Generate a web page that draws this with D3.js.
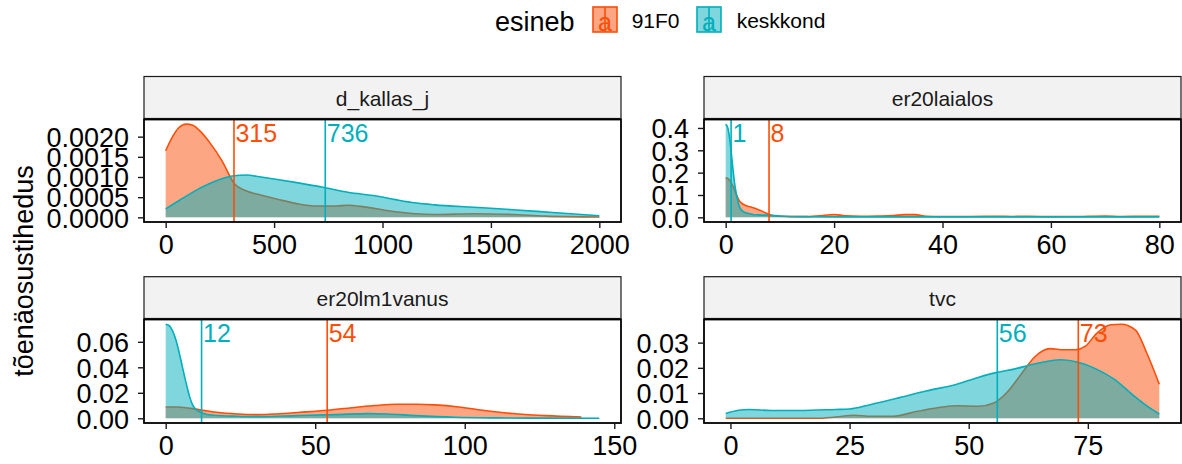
<!DOCTYPE html>
<html>
<head>
<meta charset="utf-8">
<script src="https://cdn.jsdelivr.net/npm/d3@7"></script>
<style>
  html, body { margin: 0; padding: 0; background: #fff; }
  svg text { font-family: "Liberation Sans", Arial, sans-serif; }
</style>
</head>
<body>
<svg id="chart" width="1182" height="464"></svg>
<script>
// Groups and colours
const groups = ["91F0", "keskkond"];
const groupColors = ["#FC4E07", "#00AFBB"];

// Facet names
const facets = ["d_kallas_j", "er20laialos", "er20lm1vanus", "tvc"];

// Density estimates per facet, [value, density] pairs
const kallas91F0 = [[0,0.00165],[30,0.00198],[60,0.00222],[95,0.00231],[125,0.00228],[160,0.00213],[205,0.00184],[260,0.00140],[316,0.00084],[370,0.00066],[425,0.00057],[515,0.00045],[605,0.00034],[695,0.00028],[785,0.00028],[840,0.00030],[915,0.00026],[1020,0.00017],[1150,0.00009],[1240,0.00007],[1420,0.00009],[1600,0.00007],[1750,0.00003],[2000,0.00001]];
const kallasKeskkond = [[0,0.00021],[60,0.00041],[150,0.00070],[240,0.00092],[315,0.00103],[370,0.00105],[440,0.00100],[515,0.00094],[605,0.00086],[730,0.00074],[840,0.00062],[970,0.00053],[1060,0.00044],[1150,0.00036],[1240,0.00031],[1420,0.00025],[1600,0.00019],[1785,0.00012],[2000,0.00004]];

const laialos91F0 = [[0,0.177],[0.5,0.172],[1,0.155],[1.5,0.13],[2,0.10],[2.5,0.075],[3,0.062],[3.5,0.055],[4.5,0.047],[5.5,0.040],[6.5,0.030],[7.5,0.018],[8.5,0.009],[10,0.005],[12,0.003],[15,0.003],[18,0.008],[20,0.013],[22,0.007],[25,0.005],[28,0.006],[31,0.008],[33,0.012],[35,0.012],[37,0.005],[40,0.004],[45,0.004],[50,0.005],[53,0.004],[56,0.005],[60,0.003],[65,0.004],[70,0.006],[73,0.004],[80,0.005]];
const laialosKeskkond = [[0,0.417],[0.4,0.40],[0.8,0.34],[1.2,0.25],[1.6,0.16],[2,0.10],[2.5,0.05],[3,0.03],[4,0.018],[5,0.013],[6,0.011],[8,0.009],[10,0.006],[12,0.004],[15,0.003],[20,0.002],[30,0.002],[40,0.002],[50,0.002],[60,0.002],[70,0.002],[80,0.002]];

const vanus91F0 = [[0,0.0089],[4,0.0089],[11,0.0068],[17,0.0047],[24,0.0034],[31,0.0029],[37,0.0034],[45,0.0047],[54,0.0063],[64,0.0087],[70,0.0100],[77,0.0110],[84,0.0110],[90,0.0105],[98,0.0089],[106,0.0063],[116,0.0037],[127,0.0021],[139,0.0010]];
const vanusKeskkond = [[0,0.0738],[1,0.0730],[2,0.0700],[3,0.0645],[4,0.0565],[5,0.0465],[6,0.0360],[7,0.0260],[8,0.0170],[9,0.0105],[10.5,0.0062],[12.2,0.0042],[16,0.0024],[24,0.0016],[31,0.0013],[44,0.0021],[57,0.0029],[67.6,0.0037],[74,0.0034],[83.5,0.0021],[97,0.0008],[110,0.0003],[125,0.0001],[145,0]];

const tvc91F0 = [[-1,0],[18,0],[22,0.0005],[26,0.0012],[29.5,0.0008],[34,0.0008],[39.3,0.0028],[44.5,0.0045],[47.5,0.0050],[52,0.0048],[55.4,0.0062],[58,0.0102],[61,0.0175],[64,0.0246],[67,0.0276],[70,0.0272],[72.4,0.0272],[74.5,0.0286],[76.8,0.0336],[79.8,0.0371],[82,0.0373],[85,0.0350],[87.3,0.0262],[90,0.0135]];
const tvcKeskkond = [[-1,0.0019],[1.7,0.0032],[4,0.0035],[8.5,0.0031],[14.5,0.0031],[22,0.0035],[25,0.0037],[29.5,0.0055],[35.5,0.0082],[41,0.0108],[47.5,0.0135],[52,0.0162],[55.5,0.0180],[59.5,0.0195],[64,0.0216],[69.3,0.0232],[73,0.0222],[76.8,0.0195],[80.5,0.0155],[84.3,0.0095],[88,0.0041],[90,0.0017]];

// Medians per facet, in group order
const kallasMedians = [315, 736];
const laialosMedians = [8, 1];
const vanusMedians = [54, 12];
const tvcMedians = [73, 56];

// Axis ticks
const kallasXTicks = [0, 500, 1000, 1500, 2000];
const kallasYTicks = [0, 0.0005, 0.0010, 0.0015, 0.0020];
const laialosXTicks = [0, 20, 40, 60, 80];
const laialosYTicks = [0, 0.1, 0.2, 0.3, 0.4];
const vanusXTicks = [0, 50, 100, 150];
const vanusYTicks = [0, 0.02, 0.04, 0.06];
const tvcXTicks = [0, 25, 50, 75];
const tvcYTicks = [0, 0.01, 0.02, 0.03];

const yTitle = "tõenäosustihedus";
const legendTitle = "esineb";

// Build facet descriptors from the arrays above
const panelData = [
  { name: facets[0], series: [kallas91F0, kallasKeskkond], medians: kallasMedians, xt: kallasXTicks, yt: kallasYTicks, yf: ".4f" },
  { name: facets[1], series: [laialos91F0, laialosKeskkond], medians: laialosMedians, xt: laialosXTicks, yt: laialosYTicks, yf: ".1f" },
  { name: facets[2], series: [vanus91F0, vanusKeskkond], medians: vanusMedians, xt: vanusXTicks, yt: vanusYTicks, yf: ".2f" },
  { name: facets[3], series: [tvc91F0, tvcKeskkond], medians: tvcMedians, xt: tvcXTicks, yt: tvcYTicks, yf: ".2f" }
];

// Layout boxes
const cols = [{ l: 144, r: 621 }, { l: 704, r: 1181 }];
const rows = [{ st: 76.5, t: 119.5, b: 222 }, { st: 276.7, t: 319.5, b: 423 }];

const svg = d3.select("#chart");

function fill(c) { return d3.color(c).copy({ opacity: 0.5 }).toString(); }

panelData.forEach((p, i) => {
  const col = cols[i % 2], row = rows[Math.floor(i / 2)];
  const allPts = p.series.flat();
  const xMin = d3.min(allPts, d => d[0]), xMax = d3.max(allPts, d => d[0]);
  const yMax = d3.max(allPts, d => d[1]);
  const xPad = (xMax - xMin) * 0.05;
  const x = d3.scaleLinear().domain([xMin - xPad, xMax + xPad]).range([col.l, col.r]);
  const y = d3.scaleLinear().domain([-0.05 * yMax, 1.05 * yMax]).range([row.b, row.t]);

  const g = svg.append("g");

  // strip
  g.append("rect").attr("x", col.l).attr("y", row.st).attr("width", col.r - col.l).attr("height", row.t - row.st - 1)
    .attr("fill", "#F2F2F2").attr("stroke", "#1a1a1a").attr("stroke-width", 1.2);
  g.append("text").attr("x", (col.l + col.r) / 2).attr("y", (row.st + row.t) / 2 + 7.5)
    .attr("text-anchor", "middle").attr("font-size", 21).attr("fill", "#1A1A1A").text(p.name);

  // clip
  const clipId = "clip" + i;
  svg.append("clipPath").attr("id", clipId).append("rect")
    .attr("x", col.l).attr("y", row.t).attr("width", col.r - col.l).attr("height", row.b - row.t);
  const inner = g.append("g").attr("clip-path", `url(#${clipId})`);

  const area = d3.area().x(d => x(d[0])).y0(y(0)).y1(d => y(d[1])).curve(d3.curveMonotoneX);
  const line = d3.line().x(d => x(d[0])).y(d => y(d[1])).curve(d3.curveMonotoneX);

  p.series.forEach((s, k) => {
    inner.append("path").datum(s).attr("d", area).attr("fill", fill(groupColors[k])).attr("stroke", "none");
    inner.append("path").datum(s).attr("d", line).attr("fill", "none").attr("stroke", groupColors[k]).attr("stroke-width", 1.6);
  });

  // median lines and labels
  p.medians.forEach((m, k) => {
    inner.append("line").attr("x1", x(m)).attr("x2", x(m)).attr("y1", row.t).attr("y2", row.b)
      .attr("stroke", groupColors[k]).attr("stroke-width", 1.6);
    inner.append("text").attr("x", x(m) + 1.5).attr("y", row.t + 22.5)
      .attr("font-size", 25).attr("fill", groupColors[k]).text(m);
  });

  // panel border
  g.append("rect").attr("x", col.l).attr("y", row.t).attr("width", col.r - col.l).attr("height", row.b - row.t)
    .attr("fill", "none").attr("stroke", "#000").attr("stroke-width", 1.8);

  // axes
  const xa = g.append("g").attr("transform", `translate(0,${row.b})`)
    .call(d3.axisBottom(x).tickValues(p.xt).tickSize(6).tickFormat(d3.format("d")));
  xa.select(".domain").remove();
  xa.selectAll(".tick line").attr("stroke", "#1a1a1a").attr("stroke-width", 1.4);
  xa.selectAll(".tick text").attr("dy", null).attr("y", 31.5).attr("font-size", 27).attr("fill", "#000")
    .attr("font-family", null);

  const ya = g.append("g").attr("transform", `translate(${col.l},0)`)
    .call(d3.axisLeft(y).tickValues(p.yt).tickSize(6).tickFormat(d3.format(p.yf)));
  ya.select(".domain").remove();
  ya.selectAll(".tick line").attr("stroke", "#1a1a1a").attr("stroke-width", 1.4);
  ya.selectAll(".tick text").attr("x", -15).attr("dy", "0.36em").attr("font-size", 27).attr("fill", "#000")
    .attr("font-family", null);
});

// y axis title
svg.append("text").attr("transform", "translate(33,271) rotate(-90)").attr("text-anchor", "middle")
  .attr("font-size", 27).attr("fill", "#000").text(yTitle);

// legend
const lg = svg.append("g");
lg.append("text").attr("x", 495).attr("y", 30.5).attr("font-size", 27).attr("fill", "#000").text(legendTitle);
const keyX = [593, 697], labelX = [631.7, 736.7];
groups.forEach((gname, k) => {
  const kx = keyX[k], ky = 7, kw = 24, kh = 25;
  lg.append("rect").attr("x", kx).attr("y", ky).attr("width", kw).attr("height", kh)
    .attr("fill", fill(groupColors[k])).attr("stroke", groupColors[k]).attr("stroke-width", 1.6);
  lg.append("line").attr("x1", kx + kw / 2).attr("x2", kx + kw / 2).attr("y1", ky).attr("y2", ky + kh)
    .attr("stroke", groupColors[k]).attr("stroke-width", 1.6);
  lg.append("text").attr("x", kx + kw / 2).attr("y", ky + kh - 1).attr("text-anchor", "middle")
    .attr("font-size", 25).attr("fill", groupColors[k]).text("a");
  lg.append("text").attr("x", labelX[k]).attr("y", 28.3).attr("font-size", 21).attr("fill", "#000").text(gname);
});
</script>
</body>
</html>
